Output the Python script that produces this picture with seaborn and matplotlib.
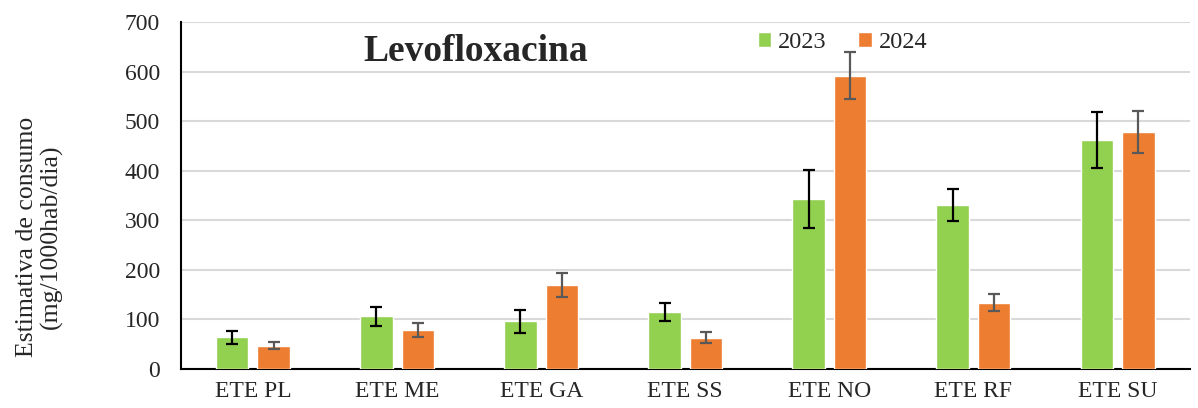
import pandas as pd
import matplotlib.pyplot as plt
import seaborn as sns

# =========================
# DADOS
# =========================
estacoes = ["ETE PL", "ETE ME", "ETE GA", "ETE SS", "ETE NO", "ETE RF", "ETE SU"]
anos = ["2023", "2024"]
consumo_2023 = [64, 106, 96, 115, 343, 331, 462]
consumo_2024 = [47, 78, 169, 63, 592, 134, 478]
erro_2023 = [13, 20, 24, 19, 58, 32, 57]
erro_2024 = [7, 14, 24, 11, 47, 17, 42]

cores = {"2023": "#92D050", "2024": "#ED7D31"}
cores_erro = {"2023": "black", "2024": "#595959"}

df = pd.DataFrame({
    "estacao": estacoes * 2,
    "ano": ["2023"] * len(estacoes) + ["2024"] * len(estacoes),
    "valor": consumo_2023 + consumo_2024,
    "erro": erro_2023 + erro_2024,
})

# =========================
# CONFIGURAÇÕES
# =========================
sns.set_style("white")
plt.rcParams["font.family"] = ["Liberation Serif", "DejaVu Serif"]

fig = plt.figure(figsize=(11.98, 4.08), dpi=100)
ax = fig.add_axes([0.151, 0.0956, 0.842, 0.85])

sns.barplot(
    data=df, x="estacao", y="valor", hue="ano",
    order=estacoes, hue_order=anos, palette=cores, saturation=1,
    width=0.576, gap=0.217, errorbar=None, ax=ax, zorder=3,
)

# barras de erro sobre cada barra
for container, ano in zip(ax.containers, anos):
    sub = df[df["ano"] == ano].set_index("estacao").loc[estacoes]
    xs = [p.get_x() + p.get_width() / 2 for p in container]
    ax.errorbar(xs, sub["valor"], yerr=sub["erro"], fmt="none",
                ecolor=cores_erro[ano], elinewidth=1.6, capsize=4.3,
                capthick=1.6, zorder=4)

ax.set_ylim(0, 700)
ax.set_yticks(range(0, 701, 100))
ax.set_xlim(-0.5, len(estacoes) - 0.5)
ax.yaxis.grid(True, color="#D9D9D9", linewidth=1.5, zorder=0)
ax.set_axisbelow(True)

for lado in ["top", "right"]:
    ax.spines[lado].set_visible(False)
for lado in ["left", "bottom"]:
    ax.spines[lado].set_color("black")
    ax.spines[lado].set_linewidth(1.5)

ax.tick_params(axis="both", labelsize=17, length=0)
ax.tick_params(axis="x", pad=9)
ax.tick_params(axis="y", pad=15)
ax.set_xlabel("")
ax.set_ylabel("Estimativa de consumo\n(mg/1000hab/dia)", fontsize=18.5,
              linespacing=1.08)
ax.yaxis.set_label_coords(-0.117, 0.38)

ax.text(0.292, 0.915, "Levofloxacina", transform=ax.transAxes,
        fontsize=27, fontweight="bold", ha="center", va="center")

ax.legend(loc="upper left", bbox_to_anchor=(0.55, 1.034), ncol=2, frameon=False,
          fontsize=17.5, handlelength=0.55, handleheight=0.55, handletextpad=0.3,
          columnspacing=1.3)

plt.savefig("out.png", dpi=100)
